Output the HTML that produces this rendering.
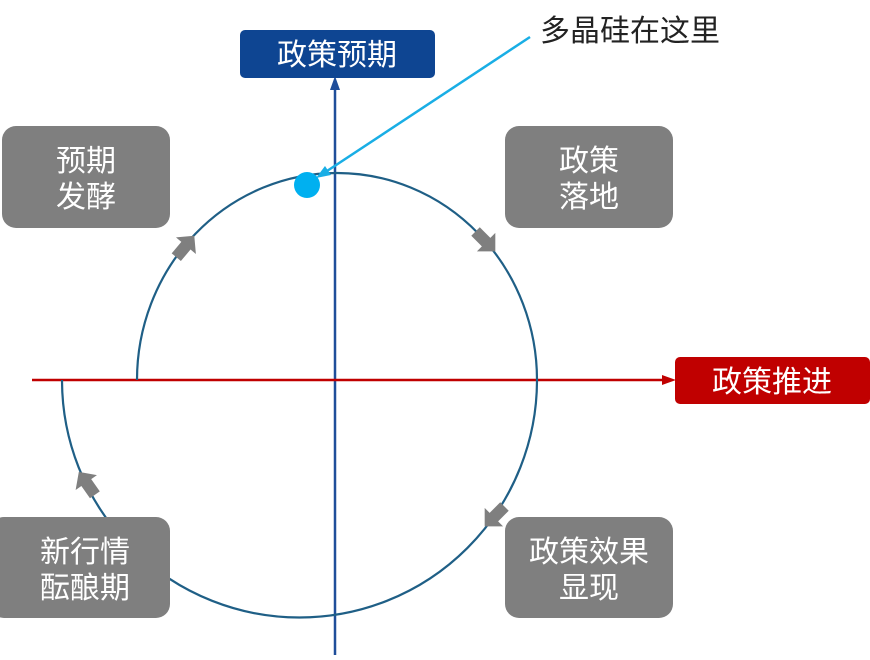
<!DOCTYPE html>
<html><head><meta charset="utf-8"><style>
body{margin:0;background:#fff;}
svg text{font-family:"Liberation Sans","Noto Sans CJK SC",sans-serif;}
</style></head><body>
<svg width="870" height="655" viewBox="0 0 870 655" xmlns="http://www.w3.org/2000/svg">
<defs>
<polygon id="fa" points="-12,-6 3,-6 3,-13 16,0 3,13 3,6 -12,6" fill="#7f7f7f"/>
</defs>
<line x1="335" y1="86" x2="335" y2="655" stroke="#1f4e9a" stroke-width="2.5"/>
<polygon points="335,76 330,90 340,90" fill="#1f4e9a"/>
<line x1="32" y1="380" x2="666" y2="380" stroke="#c00000" stroke-width="2.5"/>
<polygon points="676,380 662,375 662,385" fill="#c00000"/>
<path d="M137,380 A199,206 0 0 1 537,380 A237,237 0 0 1 62,380" fill="none" stroke="#1f5f86" stroke-width="2.2"/>
<use href="#fa" transform="translate(184,248) rotate(-50)"/>
<use href="#fa" transform="translate(484,240) rotate(45)"/>
<use href="#fa" transform="translate(496,515) rotate(135)"/>
<use href="#fa" transform="translate(88,485) rotate(-125)"/>
<rect x="2" y="126" width="168" height="102" rx="14" fill="#7f7f7f"/>
<text x="86" y="171" font-size="30" fill="#fff" text-anchor="middle">预期</text>
<text x="86" y="207" font-size="30" fill="#fff" text-anchor="middle">发酵</text>
<rect x="505" y="126" width="168" height="102" rx="14" fill="#7f7f7f"/>
<text x="589" y="171" font-size="30" fill="#fff" text-anchor="middle">政策</text>
<text x="589" y="207" font-size="30" fill="#fff" text-anchor="middle">落地</text>
<rect x="-10" y="517" width="180" height="101" rx="14" fill="#7f7f7f"/>
<text x="85" y="562" font-size="30" fill="#fff" text-anchor="middle">新行情</text>
<text x="85" y="598" font-size="30" fill="#fff" text-anchor="middle">酝酿期</text>
<rect x="505" y="517" width="168" height="101" rx="14" fill="#7f7f7f"/>
<text x="589" y="562" font-size="30" fill="#fff" text-anchor="middle">政策效果</text>
<text x="589" y="598" font-size="30" fill="#fff" text-anchor="middle">显现</text>
<rect x="240" y="30" width="195" height="48" rx="5" fill="#0e4592"/>
<text x="337" y="65" font-size="30" fill="#fff" text-anchor="middle">政策预期</text>
<rect x="675" y="357" width="195" height="47" rx="5" fill="#c00000"/>
<text x="772" y="392" font-size="30" fill="#fff" text-anchor="middle">政策推进</text>
<line x1="530" y1="37" x2="324" y2="173" stroke="#19aee5" stroke-width="2.5"/>
<polygon points="316,178 325,166 331,175" fill="#19aee5"/>
<circle cx="307" cy="185" r="13" fill="#00b0f0"/>
<text x="540" y="41" font-size="30" fill="#222">多晶硅在这里</text>
</svg>
</body></html>
